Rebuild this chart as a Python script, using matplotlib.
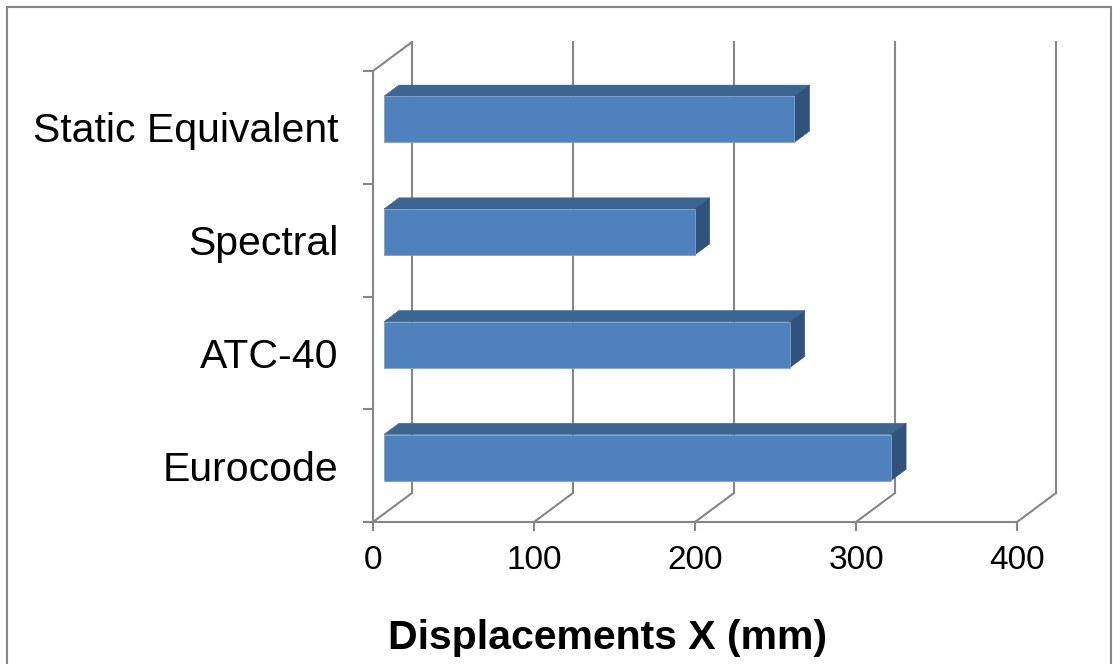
import numpy as np
import matplotlib
matplotlib.use("Agg")
from matplotlib import pyplot as plt
from matplotlib.patches import Polygon, Rectangle

# data (bottom to top, as in the chart)
categories = ["Eurocode", "ATC-40", "Spectral", "Static Equivalent"]
displacements = [315, 252, 193, 255]
x_ticks = [0, 100, 200, 300, 400]
x_label = "Displacements X (mm)"

# colours
c_front = "#4F81BD"
c_top = "#3D6592"
c_side = "#30527B"
c_grid = "#868686"

plt.rcParams["font.family"] = ["Liberation Sans", "DejaVu Sans"]

fig = plt.figure(figsize=(11.13, 6.64), dpi=100)
W, H = 1113, 664
ax = fig.add_axes([373 / W, 1 - 522 / H, 644 / W, 451 / H])
ax.set_xlim(0, 400)
ax.set_ylim(0, 4)

# depth vector of the 3d box, in data units
DX = 39 / (644 / 400)
DY = 29 / (451 / 4)
d0, d1 = 0.28, 0.665
bar_h = 0.408

# back wall + floor lines
for x in x_ticks:
    ax.plot([x + DX, x + DX], [DY, 4 + DY], color=c_grid, lw=1.5, clip_on=False, zorder=1)
    ax.plot([x, x + DX], [0, DY], color=c_grid, lw=1.5, clip_on=False, zorder=1)
ax.plot([0, DX], [4, 4 + DY], color=c_grid, lw=1.5, clip_on=False, zorder=1)

# 3d bars
for i, v in enumerate(displacements):
    yb = i + 0.5 - bar_h / 2
    yt = yb + bar_h
    front = Polygon([(d0 * DX, yb + d0 * DY), (v + d0 * DX, yb + d0 * DY),
                     (v + d0 * DX, yt + d0 * DY), (d0 * DX, yt + d0 * DY)],
                    closed=True, facecolor=c_front, edgecolor="#7EA3CF", lw=0.6,
                    clip_on=False, zorder=4)
    top = Polygon([(d0 * DX, yt + d0 * DY), (v + d0 * DX, yt + d0 * DY),
                   (v + d1 * DX, yt + d1 * DY), (d1 * DX, yt + d1 * DY)],
                  closed=True, facecolor=c_top, edgecolor=c_top, lw=0.4,
                  clip_on=False, zorder=3)
    side = Polygon([(v + d0 * DX, yb + d0 * DY), (v + d1 * DX, yb + d1 * DY),
                    (v + d1 * DX, yt + d1 * DY), (v + d0 * DX, yt + d0 * DY)],
                   closed=True, facecolor=c_side, edgecolor=c_side, lw=0.4,
                   clip_on=False, zorder=3)
    ax.add_patch(top)
    ax.add_patch(side)
    ax.add_patch(front)

# axes, ticks, labels
for s in ["top", "right"]:
    ax.spines[s].set_visible(False)
for s in ["left", "bottom"]:
    ax.spines[s].set_color(c_grid)
    ax.spines[s].set_linewidth(1.5)
    ax.spines[s].set_zorder(2)

ax.set_xticks(x_ticks)
ax.set_xticklabels([str(t) for t in x_ticks], fontsize=24)
ax.tick_params(axis="x", direction="out", length=6.5, width=1.5, color=c_grid, pad=10)

ax.set_yticks(np.arange(len(categories)) + 0.5)
ax.set_yticklabels(categories, fontsize=29.5)
ax.set_yticks(np.arange(len(categories) + 1), minor=True)
ax.tick_params(axis="y", which="major", length=0, pad=25)
ax.tick_params(axis="y", which="minor", direction="out", length=7.5, width=1.5, color=c_grid)

fig.text(607 / W, 1 - 638 / H, x_label, fontsize=29.5, fontweight="bold",
         ha="center", va="center")

# outer chart border
fig.patches.append(Rectangle((7 / W, -0.05), (1111 - 7) / W, (H - 7) / H + 0.05,
                             transform=fig.transFigure, fill=False,
                             edgecolor=c_grid, lw=1.5))

fig.savefig("out.png", dpi=100)
